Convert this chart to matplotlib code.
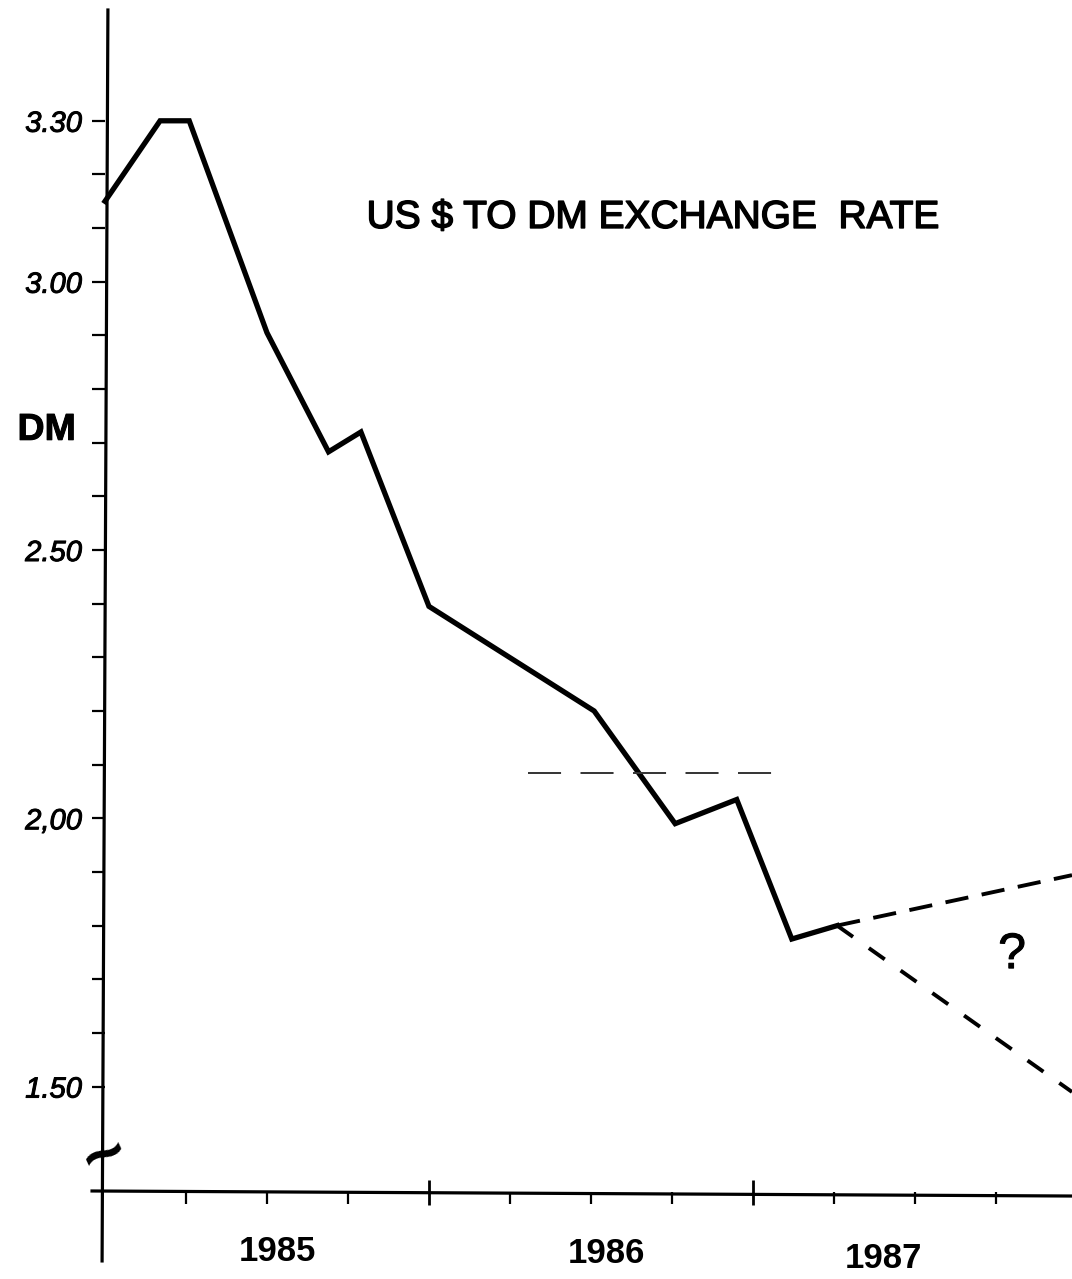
import matplotlib
matplotlib.use('Agg')
from matplotlib import pyplot as plt
from matplotlib import patheffects as pe

# Kurs US-Dollar / D-Mark, gelesen aus der Skizze
dates = [1985.00, 1985.17, 1985.26, 1985.50, 1985.69, 1985.79, 1986.00,
         1986.51, 1986.76, 1986.95, 1987.12, 1987.26]
rates = [3.15, 3.30, 3.30, 2.905, 2.683, 2.72, 2.395,
         2.20, 1.99, 2.035, 1.775, 1.80]

# Prognose: zwei Varianten ab dem letzten Punkt
proj_dates = [1987.26, 1987.985]
proj_up = [1.80, 1.894]
proj_down = [1.80, 1.49]

# waagerechte gestrichelte Linie
ref_dates = [1986.306, 1987.068]
ref_rate = [2.084, 2.084]

y_major = [1.50, 2.00, 2.50, 3.00, 3.30]
y_labels = ['1.50', '2,00', '2.50', '3.00', '3.30']
y_minor = [1.6, 1.7, 1.8, 1.9, 2.1, 2.2, 2.3, 2.4, 2.6, 2.7, 2.8, 2.9, 3.1, 3.2]
x_major = [1986, 1987]
x_minor = [1985.25, 1985.5, 1985.75, 1986.25, 1986.5, 1986.75,
           1987.25, 1987.5, 1987.75]
years = ['1985', '1986', '1987']
year_pos = [1985.531, 1986.549, 1987.404]
year_y = [1.192, 1.188, 1.179]

plt.rcParams['font.family'] = ['Liberation Sans', 'DejaVu Sans']
thick = [pe.withStroke(linewidth=0.7, foreground='black')]

fig = plt.figure(figsize=(10.72, 12.79), dpi=100)
ax = fig.add_axes([105 / 1072, 87 / 1279, 1 - 105 / 1072, (1279 - 10 - 87) / 1279])
ax.set_xlim(1985.0, 1987.985)
ax.set_ylim(1.3035, 3.5065)
for s in ax.spines.values():
    s.set_visible(False)

# Achsen von Hand
ax.plot([1984.991, 1985.009], [1.175, 3.5065], color='black', lw=2.3, clip_on=False)
ax.plot([1984.96, 1987.985], [1.3054, 1.296], color='black', lw=2.3, clip_on=False)

ax.plot(dates, rates, color='black', lw=3.8, solid_joinstyle='miter', clip_on=False)
ax.plot(proj_dates, proj_up, color='black', lw=2.8, linestyle=(0, (6, 3.5)), clip_on=False)
ax.plot(proj_dates, proj_down, color='black', lw=2.8, linestyle=(0, (5, 5)), clip_on=False)
ax.plot(ref_dates, ref_rate, color='#333333', lw=1.4, linestyle=(0, (17, 10)))

ax.set_yticks(y_major)
ax.set_yticklabels(y_labels, fontsize=21, style='italic')
for t in ax.get_yticklabels():
    t.set_path_effects(thick)
ax.set_yticks(y_minor, minor=True)
ax.tick_params(axis='y', which='both', direction='out', length=9.5, width=1.6, pad=7)

ax.set_xticks(x_major)
ax.set_xticklabels([])
ax.set_xticks(x_minor, minor=True)
ax.tick_params(axis='x', which='major', direction='inout', length=18, width=2)
ax.tick_params(axis='x', which='minor', direction='out', length=8.5, width=1.6)

for lab, xp, yp in zip(years, year_pos, year_y):
    ax.text(xp, yp, lab, fontsize=25, fontweight='bold', ha='center', va='center',
            clip_on=False)

ax.text(1984.82, 2.724, 'DM', fontsize=27, fontweight='bold', ha='center', va='center',
        clip_on=False, path_effects=thick)
ax.text(1986.691, 3.119, 'US $ TO DM EXCHANGE  RATE', fontsize=28,
        ha='center', va='center', path_effects=[pe.withStroke(linewidth=1.1, foreground='black')])
ax.text(1987.8, 1.745, '?', fontsize=36, ha='center', va='center', path_effects=thick)
ax.text(1985.0, 1.369, '~', fontsize=52, fontweight='bold', rotation=25,
        ha='center', va='center', clip_on=False)

plt.savefig('out.png', dpi=100)
